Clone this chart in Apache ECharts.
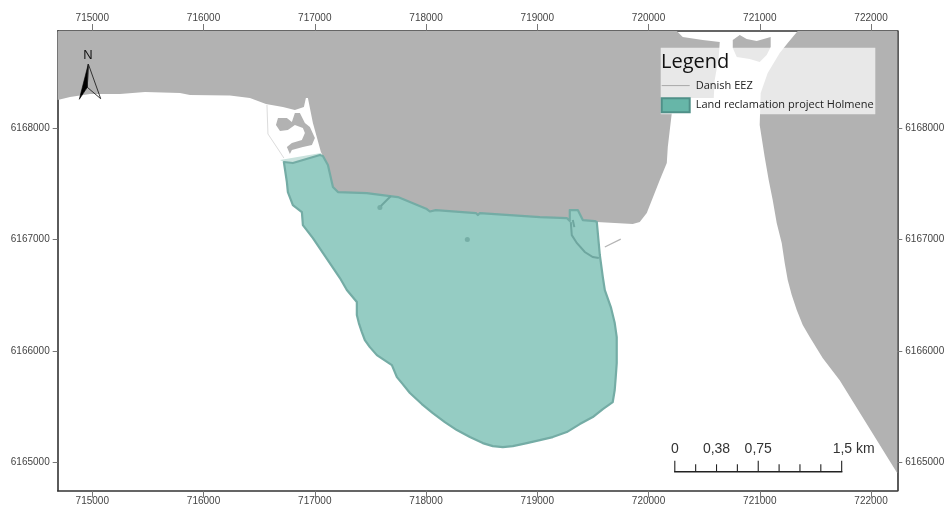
<!DOCTYPE html>
<html>
<head>
<meta charset="utf-8">
<style>html,body{margin:0;padding:0;background:#fff;overflow:hidden}#c{width:944px;height:505px}</style>
<script src="https://cdn.jsdelivr.net/npm/echarts@6/dist/echarts.min.js"></script>
</head>
<body>
<div id="c"></div>
<script>
const X_MIN = 714689, X_MAX = 722236, Y_MIN = 6164742, Y_MAX = 6168875;
const X_TICKS = [715000,716000,717000,718000,719000,720000,721000,722000];
const Y_TICKS = [6165000,6166000,6167000,6168000];

const SHARED_SHORE = [[717073,6167751],[717118,6167670],[717163,6167472],[717208,6167427],[717468,6167418],[717675,6167391],[717747,6167382],[717855,6167337],[718007,6167274],[718034,6167252],[718088,6167265],[718448,6167238],[718466,6167220],[718484,6167238],[719023,6167202],[719265,6167193],[719292,6167166],[719292,6167265],[719364,6167265],[719409,6167175],[719517,6167166]];

const LAND_WEST = [[X_MIN,Y_MAX],[X_MIN,6168254],[714800,6168281],[714979,6168308],[715249,6168308],[715474,6168326],[715788,6168317],[715878,6168299],[716237,6168295],[716417,6168272],[716561,6168219],[716713,6168192],[716821,6168165],[716902,6168192],[716920,6168272],[716938,6168272],[716983,6168048],[717055,6167787],
  ...SHARED_SHORE,
  [719535,6167157],[719858,6167139],[719921,6167157],[719984,6167238],[720101,6167535],[720164,6167688],[720173,6167832],[720209,6168138],[720209,6168272],[720586,6168272],[720595,6168434],[720631,6168641],[720640,6168776],[720487,6168794],[720307,6168821],[720254,Y_MAX]];
const LAND_EAST = [[721341,Y_MAX],[X_MAX,Y_MAX],[X_MAX,6164900],[721718,6165736],[721565,6165934],[721449,6166123],[721386,6166231],[721332,6166366],[721287,6166501],[721251,6166636],[721224,6166789],[721197,6166969],[721152,6167148],[721116,6167355],[721080,6167535],[721044,6167742],[720999,6168030],[721008,6168317],[721071,6168497],[721179,6168677],[721251,6168767]];
const ISLAND = [[720757,6168722],[720757,6168794],[720820,6168839],[720882,6168803],[720972,6168785],[721098,6168821],[721098,6168731],[721062,6168659],[720999,6168596],[720909,6168623],[720793,6168641]];
const HARBOUR_BASIN = [[716651,6168030],[716669,6168093],[716749,6168093],[716794,6168057],[716821,6168138],[716866,6168138],[716911,6168048],[716956,6168012],[717001,6167913],[716974,6167850],[716893,6167832],[716794,6167805],[716776,6167769],[716749,6167832],[716794,6167868],[716884,6167895],[716911,6167958],[716893,6168003],[716821,6168030],[716758,6167985],[716687,6167976]];
const HARBOUR_EDGE = [[716570,6168210],[716579,6167949],[716687,6167787],[716722,6167733]];
const SHALLOW_STRIP = [[716687,6167715],[717055,6167778],[717064,6167742],[716803,6167688],[716722,6167697]];

const HOLMENE = [[716722,6167697],[716803,6167688],[717046,6167760],
  ...SHARED_SHORE,
  [719535,6167157],[719562,6166861],[719589,6166663],[719607,6166546],[719661,6166393],[719696,6166249],[719714,6166123],[719714,6166006],[719714,6165889],[719705,6165763],[719696,6165647],[719678,6165539],[719589,6165476],[719499,6165404],[719382,6165341],[719265,6165269],[719139,6165224],[719023,6165197],[718906,6165170],[718780,6165143],[718690,6165134],[718600,6165143],[718510,6165170],[718394,6165224],[718277,6165287],[718169,6165359],[718061,6165440],[717962,6165521],[717855,6165620],[717783,6165709],[717738,6165763],[717693,6165871],[717612,6165925],[717558,6165961],[717495,6166033],[717450,6166096],[717423,6166168],[717396,6166249],[717378,6166321],[717378,6166438],[717288,6166546],[717226,6166654],[716983,6167013],[716893,6167130],[716884,6167247],[716803,6167310],[716758,6167427],[716749,6167517]];
const INNER_LINES = [
  [[717684,6167391],[717594,6167301]],
  [[719301,6167157],[719310,6167040],[719355,6166969],[719427,6166888],[719499,6166843],[719553,6166834]],
  [[719319,6167175],[719333,6167112]]
];
const INNER_DOTS = [[717585,6167288],[718371,6167000]];
const EEZ_LINE = [[719607,6166933],[719750,6167004]];

const SCALE_ORIGIN = [720236,6164912];
const SCALE_TICKS_M = [0,187.5,375,562.5,750,937.5,1125,1312.5,1500];
const SCALE_MAJOR_M = [0,750,1500];
const SCALE_LABELS = [[0,'0'],[375,'0,38'],[750,'0,75']];
const SCALE_END_LABEL = '1,5 km';

const NAMES = {eez:'Danish EEZ', project:'Land reclamation project Holmene'};
const GREY = '#b2b2b2', TEAL = '#95ccc3', TEAL_EDGE = '#74aca5';

function polygonSeries(name, rings, fill, stroke, width, z){
  return {
    type:'custom', name, z, silent:true,
    encode:{x:0,y:1},
    data:rings.map((r,i)=>[r[0][0],r[0][1],i]),
    renderItem(params,api){
      const r = rings[api.value(2)];
      return {type:'polygon',shape:{points:r.map(p=>api.coord(p))},
        style:{fill,stroke:stroke||null,lineWidth:width||0,lineJoin:'round'}};
    }
  };
}
function axisCommon(ticks){
  return {
    type:'value', scale:true, splitLine:{show:false},
    axisLine:{show:true,onZero:false,lineStyle:{color:'#333',width:1.6}},
    axisTick:{show:true,customValues:ticks,lineStyle:{color:'#777',width:1}},
    axisLabel:{show:true,customValues:ticks,color:'#444',fontFamily:'Liberation Sans',fontSize:10,
      formatter:v=>String(v)}
  };
}
function xAxis(position){
  const a = axisCommon(X_TICKS);
  return {...a,position,min:X_MIN,max:X_MAX,axisTick:{...a.axisTick,length:7},axisLabel:{...a.axisLabel,margin:position==='top'?8:6}};
}
function yAxis(position){
  const a = axisCommon(Y_TICKS);
  return {...a,position,min:Y_MIN,max:Y_MAX,axisTick:{...a.axisTick,length:5},axisLabel:{...a.axisLabel,margin:8}};
}

const chart = echarts.init(document.getElementById('c'));
chart.setOption({
  animation:false,
  backgroundColor:'#fff',
  grid:{left:57.7,right:46.7,top:31,bottom:14.3,containLabel:false,outerBoundsMode:'none'},
  xAxis:[xAxis('bottom'),xAxis('top')],
  yAxis:[yAxis('left'),yAxis('right')],
  legend:{
    left:660.7,top:80,orient:'vertical',padding:0,itemWidth:28,itemHeight:14,itemGap:6,z:6,
    selectedMode:false,
    textStyle:{fontFamily:'Open Sans',fontSize:11,color:'#222',padding:[0,0,0,1]},
    data:[
      {name:NAMES.eez,itemStyle:{color:'transparent',borderWidth:0},lineStyle:{color:'#a8a8a8',width:1}},
      {name:NAMES.project,icon:'rect',itemStyle:{color:'#67b6a8',borderColor:'#4f9088',borderWidth:2}}
    ]
  },
  graphic:[
    {type:'rect',z:5,silent:true,shape:{x:660.7,y:47.7,width:214.6,height:66.6},style:{fill:'rgba(255,255,255,0.7)'}},
    {type:'text',z:7,silent:true,style:{x:661,y:62,text:'Legend',fontFamily:'Open Sans',fontSize:20,fill:'#111',verticalAlign:'middle'}},
    {type:'text',z:7,silent:true,style:{x:88,y:55,text:'N',fontFamily:'Liberation Sans',fontSize:13,fill:'#111',align:'center',verticalAlign:'middle'}},
    {type:'polygon',z:7,silent:true,shape:{points:[[88.3,64],[79.3,99.3],[87.3,87.3]]},style:{fill:'#000',stroke:'#000',lineWidth:0.6}},
    {type:'polygon',z:7,silent:true,shape:{points:[[88.3,64],[100.7,98.7],[87.3,87.3]]},style:{fill:'none',stroke:'#222',lineWidth:0.9}}
  ],
  series:[
    polygonSeries('Land',[LAND_WEST,LAND_EAST,ISLAND,HARBOUR_BASIN],GREY,null,0,2),
    polygonSeries('Shallow',[SHALLOW_STRIP],'#c9e2dd',null,0,3),
    polygonSeries(NAMES.project,[HOLMENE],TEAL,TEAL_EDGE,2.2,3),
    {type:'custom',name:'Inner works',z:4,silent:true,encode:{x:0,y:1},
      data:INNER_LINES.map((l,i)=>[l[0][0],l[0][1],i]),
      renderItem(params,api){
        return {type:'polyline',shape:{points:INNER_LINES[api.value(2)].map(p=>api.coord(p))},
          style:{fill:'none',stroke:'#6ea69f',lineWidth:2}};
      }},
    {type:'scatter',name:'Inner dots',z:4,silent:true,symbolSize:5,data:INNER_DOTS,
      itemStyle:{color:'#6ea69f'}},
    {type:'line',name:'Harbour edge',z:4,silent:true,symbol:'none',data:HARBOUR_EDGE,
      lineStyle:{color:'#dcdcdc',width:1}},
    {type:'line',name:NAMES.eez,z:4,silent:true,symbol:'none',data:EEZ_LINE,
      lineStyle:{color:'#b4b4b4',width:1.2}},
    {type:'custom',name:'Scale bar',z:8,silent:true,encode:{x:0,y:1},
      data:[SCALE_ORIGIN],
      renderItem(params,api){
        const [x0,y0] = SCALE_ORIGIN;
        const at = m => api.coord([x0+m,y0]);
        const kids = [];
        const a = at(0), b = at(1500);
        kids.push({type:'line',shape:{x1:a[0]-0.7,y1:a[1],x2:b[0]+0.7,y2:b[1]},style:{stroke:'#222',lineWidth:1.4}});
        SCALE_TICKS_M.forEach(m=>{
          const p = at(m), big = SCALE_MAJOR_M.includes(m);
          kids.push({type:'line',shape:{x1:p[0],y1:p[1],x2:p[0],y2:p[1]-(big?11:7.5)},style:{stroke:'#222',lineWidth:1.1}});
        });
        SCALE_LABELS.forEach(([m,t])=>{
          const p = at(m);
          kids.push({type:'text',style:{x:p[0],y:p[1]-22.5,text:t,fontFamily:'Liberation Sans',fontSize:14,fill:'#333',align:'center',verticalAlign:'middle'}});
        });
        kids.push({type:'text',style:{x:b[0]-9,y:b[1]-22.5,text:SCALE_END_LABEL,fontFamily:'Liberation Sans',fontSize:14,fill:'#333',align:'left',verticalAlign:'middle'}});
        return {type:'group',children:kids};
      }}
  ]
});
</script>
</body>
</html>
